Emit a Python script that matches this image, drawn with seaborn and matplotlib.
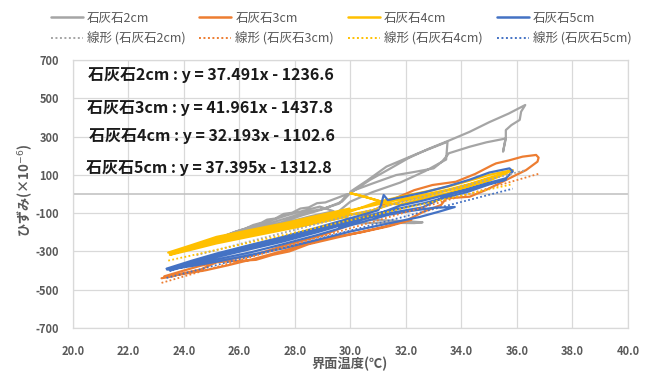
import numpy as np
import pandas as pd
import matplotlib
matplotlib.use("Agg")
import matplotlib.pyplot as plt
import seaborn as sns
from matplotlib.lines import Line2D

# ---------------- data ----------------
series_names = ["石灰石2cm", "石灰石3cm", "石灰石4cm", "石灰石5cm"]
trend_names = ["線形 (石灰石2cm)", "線形 (石灰石3cm)", "線形 (石灰石4cm)", "線形 (石灰石5cm)"]

gray_temp = [24.46, 24.8, 25.3, 25.8, 26.2, 26.5, 26.8, 27.0, 27.3, 27.6, 27.9, 28.2, 28.5, 28.8, 29.1, 29.5, 29.9,
             29.6, 29.0, 28.4, 27.8, 27.2, 26.6, 26.0, 25.4, 24.8,
             25.4, 26.2, 27.0, 27.8, 28.6, 29.4,
             28.9, 28.3, 27.7, 27.1, 26.5, 25.9, 25.2,
             25.9, 26.7, 27.5, 28.3, 29.0, 29.7,
             30.0, 30.7, 31.4, 32.1, 32.8, 33.6, 34.3, 35.0, 35.7, 36.1, 36.3,
             36.15, 36.1, 35.8, 35.6, 35.6, 35.5, 35.6, 34.9, 34.3, 33.55, 33.45, 33.3, 33.0, 32.3, 31.65, 30.8, 30.0,
             30.6, 31.3, 32.4, 33.5, 33.45, 32.7, 31.8, 30.8, 30.0,
             29.5, 29.9, 31.0, 32.0, 32.6, 32.3, 31.0, 30.0, 29.0]
gray_strain = [-275, -252, -228, -200, -182, -162, -150, -134, -128, -104, -98, -76, -70, -48, -44, -22, 0,
               -50, -78, -95, -122, -148, -172, -200, -228, -255,
               -240, -205, -175, -145, -115, -90,
               -66, -88, -112, -140, -168, -195, -235,
               -210, -180, -148, -110, -80, -40,
               5, 73, 130, 188, 235, 282, 325, 375, 420, 450, 465,
               430, 387, 360, 334, 299, 221, 290, 270, 247, 213, 195, 169, 134, 115, 99, 55, 12,
               70, 143, 210, 273, 180, 120, 60, 10, -40,
               -100, -128, -136, -142, -148, -152, -150, -155, -170]

orange_temp = [23.2, 23.6, 23.98, 24.6, 25.18, 25.9, 26.6, 27.2, 27.8, 28.5, 29.5, 30.2, 31.2, 32.0,
               32.6, 33.27, 33.45, 34.3, 34.9, 35.37, 36.09, 36.33, 36.74, 36.78, 36.69, 36.2, 35.7,
               35.25, 35.1, 34.5, 33.8, 32.96, 32.3, 31.5, 30.8, 30.0, 29.2, 28.5, 27.6, 26.5, 25.5,
               24.6, 24.0, 23.3, 23.9, 24.8, 25.6, 26.5, 27.5, 28.5, 29.5, 30.4, 31.4, 32.2]
orange_strain = [-440, -430, -414, -395, -356, -350, -344, -318, -300, -262, -228, -205, -172, -140,
                 -95, -57, -23, -14, 22, 56, 108, 125, 169, 190, 204, 195, 175,
                 160, 150, 105, 64, 47, 20, -30, -90, -160, -205, -235, -270, -320, -345,
                 -375, -400, -430, -420, -398, -372, -340, -300, -258, -222, -200, -168, -135]

yellow_temp = [23.44, 24.3, 25.18, 26.4, 27.58, 28.8, 29.97,
               29.9, 28.8, 27.58, 26.4, 25.18, 24.3, 23.5,
               24.3, 25.18, 26.4, 27.58, 28.8, 29.9,
               30.9, 31.8, 32.7, 33.5, 34.3, 35.0, 35.85,
               35.5, 35.0, 34.2, 33.5, 32.6, 31.8, 31.3,
               30.6, 30.0, 30.2, 30.9, 31.4,
               30.6, 29.9, 28.8, 27.58, 26.4, 25.18, 24.3, 23.5,
               24.3, 25.18, 26.4, 27.58, 28.8, 29.9, 30.8, 31.8, 32.7, 33.5, 34.3, 35.0, 35.6,
               35.0, 34.3, 33.5, 32.7, 31.8, 30.8, 29.9, 28.8]
yellow_strain = [-306, -266, -224, -188, -154, -114, -76,
                 -118, -152, -188, -222, -258, -290, -318,
                 -278, -240, -205, -170, -133, -97,
                 -45, -14, 12, 38, 70, 100, 125,
                 100, 70, 35, 4, -25, -55, -48,
                 -18, 4, -2, -30, -52,
                 -100, -108, -142, -180, -213, -250, -282, -312,
                 -272, -232, -196, -162, -124, -88, -60, -28, -2, 22, 52, 85, 108,
                 80, 50, 18, -10, -40, -85, -110, -146]

blue_temp = [23.38, 24.3, 25.18, 26.4, 27.58, 28.8, 29.97, 31.0,
             31.1, 31.2, 31.35, 31.8, 32.7, 33.5, 34.3, 35.0, 35.73, 35.85, 35.6, 34.9, 34.17, 33.4, 32.6, 31.8,
             30.9, 29.97, 28.8, 27.58, 26.4, 25.18, 24.3, 23.4,
             24.3, 25.18, 26.4, 27.58, 28.8, 29.97, 31.4, 32.5, 33.2, 33.76,
             33.0, 32.2, 31.4, 30.6, 29.97, 28.8, 27.58, 26.4, 25.18, 24.3, 23.5,
             24.3, 25.18, 26.4, 27.58, 28.8, 29.97, 31.0, 31.8, 32.6, 33.4, 34.2, 35.0, 35.6,
             34.6, 33.6, 32.6, 31.6, 30.6, 29.6]
blue_strain = [-390, -348, -311, -266, -224, -176, -128, -85,
               -60, -5, -32, -18, 10, 40, 75, 112, 134, 118, 82, 55, 21, -5, -35, -60,
               -110, -150, -200, -248, -288, -330, -360, -395,
               -376, -354, -318, -284, -240, -197, -153, -120, -92, -68,
               -72, -88, -108, -140, -165, -215, -262, -305, -342, -368, -400,
               -356, -322, -278, -236, -188, -140, -100, -75, -50, -20, 10, 50, 75,
               40, 0, -70, -95, -125, -175]

trend_slope = [37.491, 41.961, 32.193, 37.395]
trend_intercept = [-1236.6, -1437.8, -1102.6, -1312.8]

x_ticks = [20.0, 22.0, 24.0, 26.0, 28.0, 30.0, 32.0, 34.0, 36.0, 38.0, 40.0]
y_ticks = [-700, -500, -300, -100, 100, 300, 500, 700]

# ---------------- styling ----------------
colors = ["#A5A5A5", "#ED7D31", "#FFC000", "#4472C4"]
sns.set_theme(style="white")
plt.rcParams["font.family"] = ["Noto Sans CJK JP", "DejaVu Sans"]

W, H = 654, 376
fig = plt.figure(figsize=(W / 100, H / 100), dpi=100)
L, R, T, B = 72.7, 628, 60, 328
ax = fig.add_axes([L / W, 1 - B / H, (R - L) / W, (B - T) / H])

temps = [gray_temp, orange_temp, yellow_temp, blue_temp]
strains = [gray_strain, orange_strain, yellow_strain, blue_strain]

for name, tt, ss, c in zip(series_names, temps, strains, colors):
    df = pd.DataFrame({"temp": tt, "strain": ss})
    sns.lineplot(data=df, x="temp", y="strain", sort=False, estimator=None,
                 color=c, lw=1.6, ax=ax, zorder=3)

for tt, a, b, c in zip(temps, trend_slope, trend_intercept, colors):
    xs = np.array([min(tt), max(tt)])
    ys = a * xs + b
    sns.lineplot(x=xs, y=ys, sort=False, estimator=None, color=c, lw=1.3,
                 linestyle=(0, (1, 1.3)), ax=ax, zorder=4)

ax.set_xlim(20, 40)
ax.set_ylim(-700, 700)
ax.set_xticks(x_ticks)
ax.set_xticklabels([f"{v:.1f}" for v in x_ticks])
ax.set_yticks(y_ticks)
ax.set_yticklabels([f"{v:d}" for v in y_ticks])
ax.grid(True, color="#D9D9D9", lw=0.9)
ax.set_axisbelow(True)
ax.axhline(0, color="#BFBFBF", lw=1.1, zorder=2)
for s in ax.spines.values():
    s.set_color("#D9D9D9")
    s.set_linewidth(0.9)
ax.tick_params(length=0, labelsize=8, colors="#595959")
ax.tick_params(axis="y", pad=10)
ax.tick_params(axis="x", pad=12)
for lbl in ax.get_xticklabels() + ax.get_yticklabels():
    lbl.set_fontweight("bold")
ax.set_xlabel("")
ax.set_ylabel("")

fig.text(350 / W, 1 - 364 / H, "界面温度(℃)", ha="center", va="center",
         fontsize=9.5, color="#595959", fontweight="bold")
fig.text(25 / W, 1 - 190 / H, "ひずみ(×10$^{-6}$)", ha="center", va="center",
         rotation=90, fontsize=9.5, color="#595959", fontweight="bold")

# equations
eq_y = [75, 108, 136, 168]
eq_x = [88, 87, 89, 86]
for nm, a, b, xx, yy in zip(series_names, trend_slope, trend_intercept, eq_x, eq_y):
    fig.text(xx / W, 1 - yy / H, f"{nm} : y = {a:.3f}x - {abs(b):.1f}",
             ha="left", va="center", fontsize=11.5, color="#1A1A1A", fontweight="bold")

# legend
handles, labels = [], []
for nm, tn, c in zip(series_names, trend_names, colors):
    handles.append(Line2D([0], [0], color=c, lw=1.8))
    labels.append(nm)
    handles.append(Line2D([0], [0], color=c, lw=1.4, linestyle=(0, (1, 1.3))))
    labels.append(tn)
fig.legend(handles, labels, ncol=4, loc="center", bbox_to_anchor=(341 / W, 1 - 28.5 / H),
           frameon=False, fontsize=9, labelcolor="#595959", handlelength=2.56,
           handletextpad=0.32, columnspacing=1.12, labelspacing=0.6)

fig.savefig("out.png", dpi=100)
